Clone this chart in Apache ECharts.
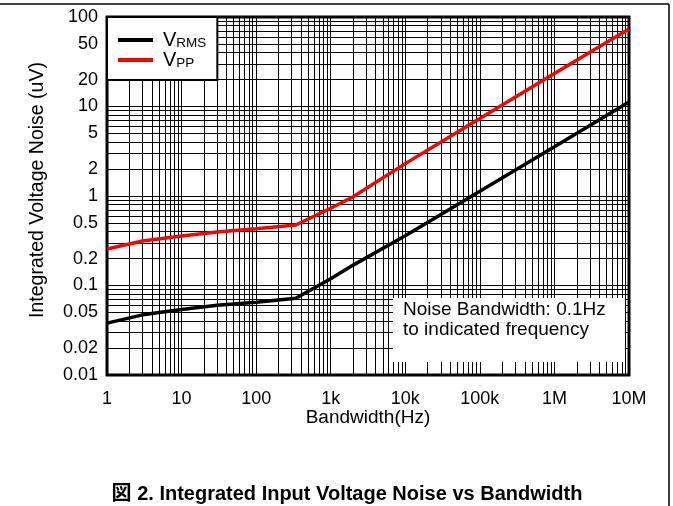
<!DOCTYPE html>
<html>
<head>
<meta charset="utf-8">
<script src="https://cdn.jsdelivr.net/npm/echarts@6/dist/echarts.min.js"></script>
<style>
  html, body { margin: 0; padding: 0; background: #fff; }
  #chart { width: 673px; height: 506px; }
</style>
</head>
<body>
<div id="chart"></div>
<script>
// Integrated noise vs. bandwidth (0.1 Hz to the given upper frequency)
const bandwidthHz = [1, 3, 10, 30, 100, 340, 1000, 2000, 10000, 100000, 1000000, 10000000];
const vRms = [0.038, 0.047, 0.054, 0.060, 0.065, 0.072, 0.119, 0.169, 0.36, 1.13, 3.55, 11.2];
const vPp  = [0.256, 0.314, 0.357, 0.395, 0.43, 0.474, 0.73, 0.98, 2.3, 7.35, 23.3, 73.5];

// Axis labelling
const xTickLabels = ['1', '10', '100', '1k', '10k', '100k', '1M', '10M'];
const yTickValues = [0.01, 0.02, 0.05, 0.1, 0.2, 0.5, 1, 2, 5, 10, 20, 50, 100];
const yTickLabels = ['0.01', '0.02', '0.05', '0.1', '0.2', '0.5', '1', '2', '5', '10', '20', '50', '100'];

// Log-paper minor grid: 2..9 within each decade
const minorSteps = [2, 3, 4, 5, 6, 7, 8, 9];
const xDecades = [1, 10, 100, 1e3, 1e4, 1e5, 1e6];
const yDecades = [0.01, 0.1, 1, 10];

const FONT = "'Liberation Sans', Arial, Helvetica, sans-serif";

const xMinor = [];
xDecades.forEach(d => minorSteps.forEach(s => xMinor.push({ xAxis: d * s })));
const yMinor = [];
yDecades.forEach(d => minorSteps.forEach(s => yMinor.push({ yAxis: d * s })));

const toPairs = ys => bandwidthHz.map((x, i) => [x, ys[i]]);

const chart = echarts.init(document.getElementById('chart'), null, { renderer: 'canvas' });

const gridLineStyle = { color: '#000', width: 1, type: 'solid', opacity: 1 };

chart.setOption({
  animation: false,
  backgroundColor: '#fff',
  textStyle: { fontFamily: FONT, color: '#000' },
  grid: {
    left: 107, top: 17, right: 44, bottom: 131,
    show: true, borderColor: '#000', borderWidth: 3, backgroundColor: 'transparent'
  },
  xAxis: {
    type: 'log', logBase: 10, min: 1, max: 1e7,
    axisLine: { show: false },
    axisTick: { show: false },
    axisLabel: {
      fontSize: 18, color: '#000', fontFamily: FONT, margin: 15,
      formatter: v => xTickLabels[Math.round(Math.log10(v))]
    },
    splitLine: { show: true, lineStyle: { color: '#000', width: 1 } },
    minorTick: { show: false }, minorSplitLine: { show: false }
  },
  yAxis: {
    type: 'log', logBase: 10, min: 0.01, max: 100,
    axisLine: { show: false },
    axisTick: { show: false },
    axisLabel: { show: false },
    splitLine: { show: true, lineStyle: { color: '#000', width: 1 } }
  },
  legend: {
    data: ['VRMS', 'VPP'],
    orient: 'vertical', left: 107, top: 17,
    padding: [13, 11, 10, 11], itemGap: 0,
    itemWidth: 35, itemHeight: 4, icon: 'rect',
    backgroundColor: '#fff', borderColor: '#000', borderWidth: 2, borderRadius: 0,
    selectedMode: false, z: 10,
    formatter: name => '{v|V}{s|' + name.slice(1) + '}',
    textStyle: {
      color: '#000', fontFamily: FONT,
      rich: {
        v: { fontSize: 20, lineHeight: 20, padding: [0, 0, 0, 5], fontFamily: FONT, color: '#000' },
        s: { fontSize: 13.5, lineHeight: 13, verticalAlign: 'bottom', fontFamily: FONT, color: '#000' }
      }
    }
  },
  graphic: [
    // page frame (top and right rules)
    { type: 'line', z: 50, shape: { x1: 0, y1: 4, x2: 669, y2: 4 }, style: { stroke: '#000', lineWidth: 1.5 } },
    { type: 'line', z: 50, shape: { x1: 669, y1: 4, x2: 669, y2: 506 }, style: { stroke: '#000', lineWidth: 1.5 } },
    // axis titles
    {
      type: 'text', z: 21, x: 38, y: 190, rotation: Math.PI / 2,
      style: {
        text: 'Integrated Voltage Noise (uV)',
        font: '19.5px ' + FONT, fill: '#000', align: 'center', verticalAlign: 'middle'
      }
    },
    {
      type: 'text', z: 21, x: 368, y: 418,
      style: {
        text: 'Bandwidth(Hz)',
        font: '19px ' + FONT, fill: '#000', align: 'center', verticalAlign: 'middle'
      }
    },
    // note box
    { type: 'rect', z: 20, shape: { x: 393, y: 298, width: 232, height: 64 }, style: { fill: '#fff' } },
    {
      type: 'text', z: 21, x: 403, y: 320,
      style: {
        text: 'Noise Bandwidth: 0.1Hz\nto indicated frequency',
        font: '19px ' + FONT, fill: '#000', lineHeight: 20,
        verticalAlign: 'middle', align: 'left'
      }
    },
    // caption
    {
      type: 'text', z: 21, x: 347, y: 494,
      style: {
        text: '図 2. Integrated Input Voltage Noise vs Bandwidth',
        font: "bold 20px 'Liberation Sans', Arial, 'Noto Sans CJK JP', sans-serif",
        fill: '#000', align: 'center', verticalAlign: 'middle'
      }
    }
  ],
  series: [
    {
      name: 'x-minor', type: 'line', data: [], z: 1, silent: true, clip: false,
      markLine: {
        silent: true, symbol: 'none', animation: false,
        label: { show: false }, lineStyle: gridLineStyle,
        emphasis: { disabled: true }, data: xMinor
      }
    },
    {
      name: 'y-minor', type: 'line', data: [], z: 1, silent: true, clip: false,
      markLine: {
        silent: true, symbol: 'none', animation: false,
        label: { show: false }, lineStyle: gridLineStyle,
        emphasis: { disabled: true }, data: yMinor
      }
    },
    {
      name: 'y-labels', type: 'line', data: [], z: 1, silent: true, clip: false,
      markLine: {
        silent: true, symbol: 'none', animation: false,
        lineStyle: { color: 'rgba(0,0,0,0)', width: 1, opacity: 1 },
        label: {
          show: true, position: 'start', distance: 9, opacity: 1,
          fontSize: 18, color: '#000', fontFamily: FONT,
          formatter: p => yTickLabels[p.dataIndex]
        },
        emphasis: { disabled: true },
        data: yTickValues.map(v => ({ yAxis: v }))
      }
    },
    {
      name: 'VRMS', type: 'line', data: toPairs(vRms), z: 5,
      symbol: 'none', smooth: false, color: '#000',
      lineStyle: { color: '#000', width: 3.5 }
    },
    {
      name: 'VPP', type: 'line', data: toPairs(vPp), z: 5,
      symbol: 'none', smooth: false, color: '#ff0000',
      lineStyle: { color: '#ff0000', width: 3.5 }
    }
  ]
});
</script>
</body>
</html>
